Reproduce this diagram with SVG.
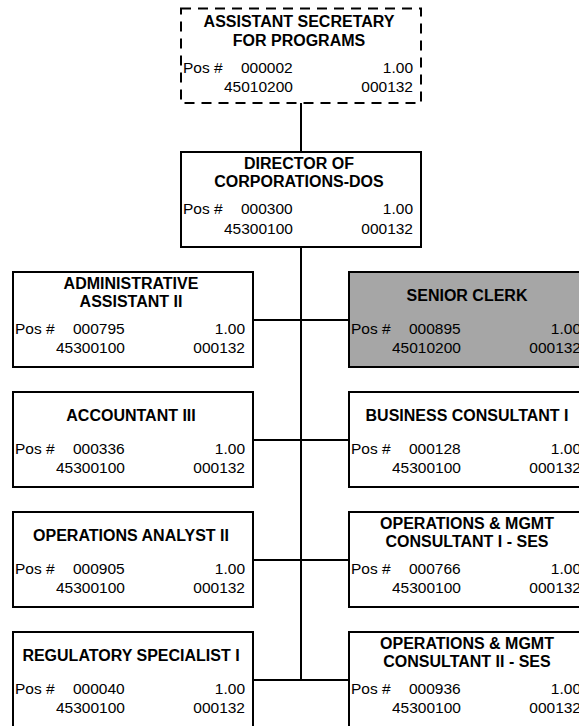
<svg xmlns="http://www.w3.org/2000/svg" width="579" height="726" viewBox="0 0 579 726">
  <style>
    .box { fill: #ffffff; stroke: #000000; stroke-width: 2; }
    .vacant { fill: #ffffff; stroke: #000000; stroke-width: 2; stroke-dasharray: 10 7; }
    .shaded { fill: #a6a6a6; stroke: #000000; stroke-width: 2; }
    .t { font-family: "Liberation Sans", Arial, sans-serif; font-size: 16px; font-weight: bold; fill: #000; text-anchor: middle; }
    .n { font-family: "Liberation Sans", Arial, sans-serif; font-size: 15.5px; fill: #000; }
    .r { text-anchor: end; }
    .wire { fill: none; stroke: #000000; stroke-width: 2; }
  </style>

  <!-- reporting lines -->
  <g id="connectors">
    <path class="wire" d="M301 103 V152 M301 247 V680"/>
    <path class="wire" d="M253 320 H349 M253 440 H349 M253 560 H349 M253 680 H349"/>
  </g>

  <g id="asst-secretary">
    <rect class="vacant" x="181" y="8.5" width="240" height="94.5"/>
    <text class="t" x="299" y="27">ASSISTANT SECRETARY</text>
    <text class="t" x="299" y="46">FOR PROGRAMS</text>
    <text class="n" x="183" y="73">Pos #</text>
    <text class="n" x="241" y="73">000002</text>
    <text class="n r" x="413" y="73">1.00</text>
    <text class="n" x="224" y="92">45010200</text>
    <text class="n r" x="413" y="92">000132</text>
  </g>

  <g id="director">
    <rect class="box" x="181" y="152" width="240" height="95"/>
    <text class="t" x="299" y="168.5">DIRECTOR OF</text>
    <text class="t" x="299" y="187">CORPORATIONS-DOS</text>
    <text class="n" x="183" y="214">Pos #</text>
    <text class="n" x="241" y="214">000300</text>
    <text class="n r" x="413" y="214">1.00</text>
    <text class="n" x="224" y="233.5">45300100</text>
    <text class="n r" x="413" y="233.5">000132</text>
  </g>

  <g id="admin-assistant">
    <rect class="box" x="13" y="272" width="240" height="95"/>
    <text class="t" x="131" y="288.5">ADMINISTRATIVE</text>
    <text class="t" x="131" y="307">ASSISTANT II</text>
    <text class="n" x="15" y="334">Pos #</text>
    <text class="n" x="73" y="334">000795</text>
    <text class="n r" x="245" y="334">1.00</text>
    <text class="n" x="56" y="353">45300100</text>
    <text class="n r" x="245" y="353">000132</text>
  </g>

  <g id="senior-clerk">
    <rect class="shaded" x="349" y="272" width="240" height="95"/>
    <text class="t" x="467" y="300.5">SENIOR CLERK</text>
    <text class="n" x="351" y="334">Pos #</text>
    <text class="n" x="409" y="334">000895</text>
    <text class="n r" x="581" y="334">1.00</text>
    <text class="n" x="392" y="353">45010200</text>
    <text class="n r" x="581" y="353">000132</text>
  </g>

  <g id="accountant">
    <rect class="box" x="13" y="392" width="240" height="95"/>
    <text class="t" x="131" y="420.5">ACCOUNTANT III</text>
    <text class="n" x="15" y="454">Pos #</text>
    <text class="n" x="73" y="454">000336</text>
    <text class="n r" x="245" y="454">1.00</text>
    <text class="n" x="56" y="473">45300100</text>
    <text class="n r" x="245" y="473">000132</text>
  </g>

  <g id="business-consultant">
    <rect class="box" x="349" y="392" width="240" height="95"/>
    <text class="t" x="467" y="420.5">BUSINESS CONSULTANT I</text>
    <text class="n" x="351" y="454">Pos #</text>
    <text class="n" x="409" y="454">000128</text>
    <text class="n r" x="581" y="454">1.00</text>
    <text class="n" x="392" y="473">45300100</text>
    <text class="n r" x="581" y="473">000132</text>
  </g>

  <g id="operations-analyst">
    <rect class="box" x="13" y="512" width="240" height="95"/>
    <text class="t" x="131" y="540.5">OPERATIONS ANALYST II</text>
    <text class="n" x="15" y="574">Pos #</text>
    <text class="n" x="73" y="574">000905</text>
    <text class="n r" x="245" y="574">1.00</text>
    <text class="n" x="56" y="593">45300100</text>
    <text class="n r" x="245" y="593">000132</text>
  </g>

  <g id="ops-mgmt-consultant-1">
    <rect class="box" x="349" y="512" width="240" height="95"/>
    <text class="t" x="467" y="528.5">OPERATIONS &amp; MGMT</text>
    <text class="t" x="467" y="547">CONSULTANT I - SES</text>
    <text class="n" x="351" y="574">Pos #</text>
    <text class="n" x="409" y="574">000766</text>
    <text class="n r" x="581" y="574">1.00</text>
    <text class="n" x="392" y="593">45300100</text>
    <text class="n r" x="581" y="593">000132</text>
  </g>

  <g id="regulatory-specialist">
    <rect class="box" x="13" y="632" width="240" height="95"/>
    <text class="t" x="131" y="660.5">REGULATORY SPECIALIST I</text>
    <text class="n" x="15" y="694">Pos #</text>
    <text class="n" x="73" y="694">000040</text>
    <text class="n r" x="245" y="694">1.00</text>
    <text class="n" x="56" y="713">45300100</text>
    <text class="n r" x="245" y="713">000132</text>
  </g>

  <g id="ops-mgmt-consultant-2">
    <rect class="box" x="349" y="632" width="240" height="95"/>
    <text class="t" x="467" y="648.5">OPERATIONS &amp; MGMT</text>
    <text class="t" x="467" y="667">CONSULTANT II - SES</text>
    <text class="n" x="351" y="694">Pos #</text>
    <text class="n" x="409" y="694">000936</text>
    <text class="n r" x="581" y="694">1.00</text>
    <text class="n" x="392" y="713">45300100</text>
    <text class="n r" x="581" y="713">000132</text>
  </g>
</svg>
